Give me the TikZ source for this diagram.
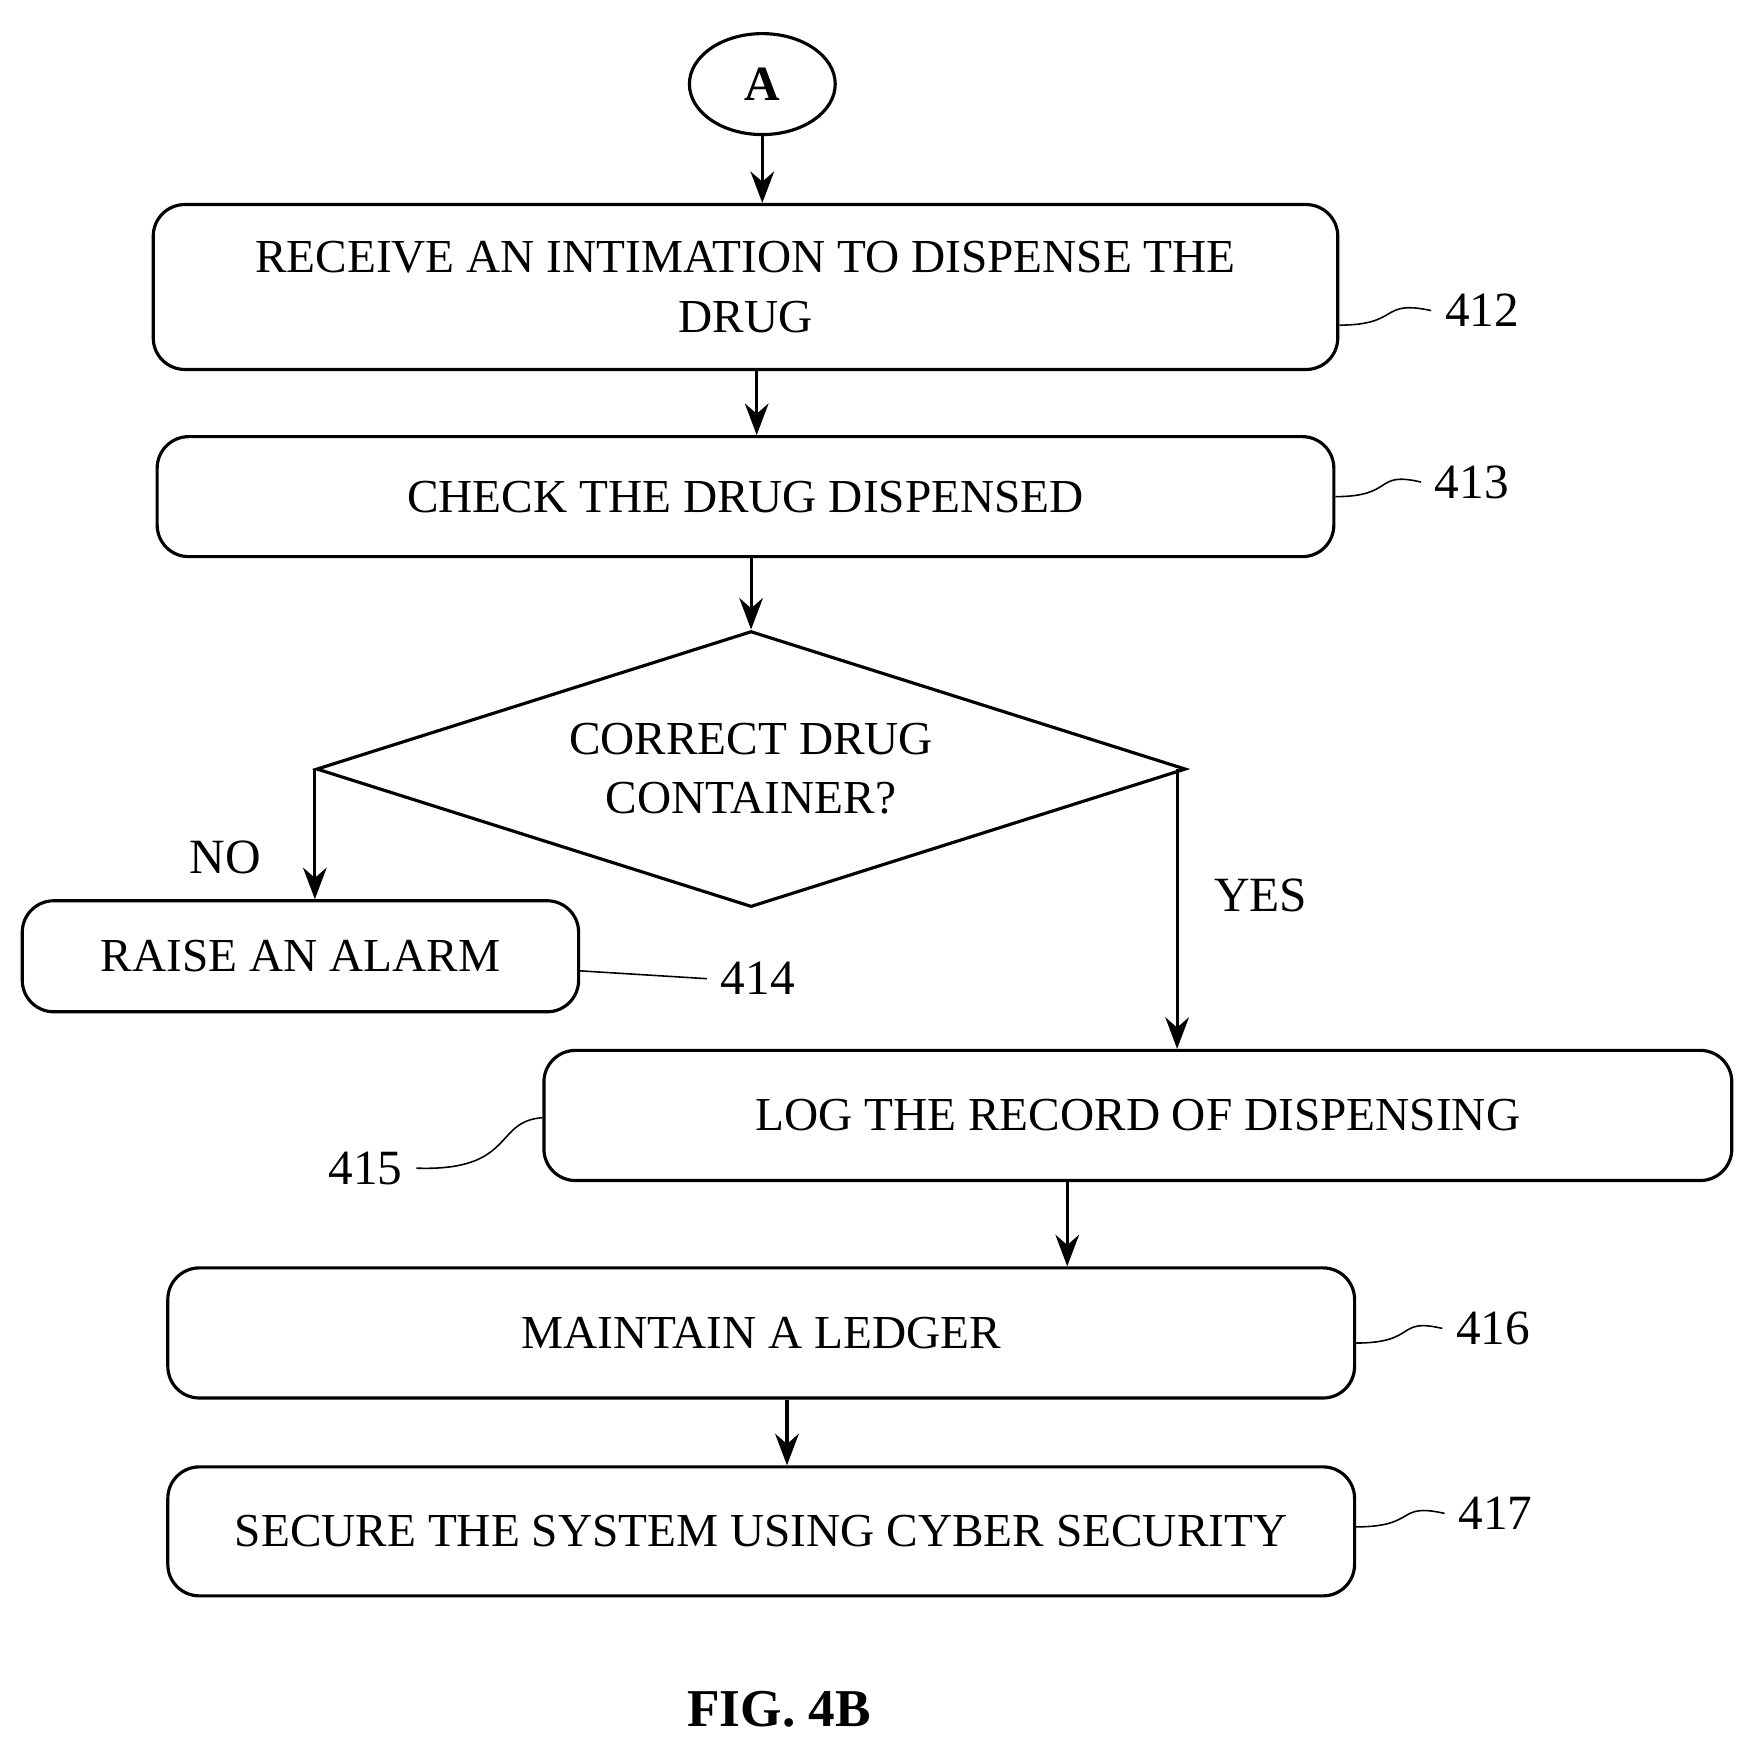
\documentclass[tikz,border=0pt]{standalone}
\usepackage{fontspec}
\setmainfont{Liberation Serif}
\usetikzlibrary{shapes.geometric,arrows.meta}
\tikzset{procbox/.style={draw,thick,rounded corners=8pt,align=center,inner sep=0pt},
  arr/.style={thick,-{Stealth[length=8pt,width=6pt]}},
  refno/.style={font=\fontsize{12.5}{15}\selectfont}}
\begin{document}
\begin{tikzpicture}[x=0.01cm,y=-0.01cm,font=\fontsize{12}{15}\selectfont]
  \useasboundingbox (0,0) rectangle (1550,1553);
  \node[draw,thick,ellipse,minimum width=1.3cm,minimum height=0.9cm,font=\fontsize{12.5}{15}\selectfont\bfseries] (A) at (680,75) {A};
  \node[procbox,minimum width=10.56cm,minimum height=1.47cm] (s412) at (665,256) {RECEIVE AN INTIMATION TO DISPENSE THE\\DRUG};
  \node[procbox,minimum width=10.49cm,minimum height=1.07cm] (s413) at (665,443) {CHECK THE DRUG DISPENSED};
  \node[draw,thick,diamond,minimum width=7.75cm,minimum height=2.46cm,aspect=3.15,inner sep=0pt,align=center] (d) at (670,686) {CORRECT DRUG\\CONTAINER?};
  \node[procbox,minimum width=4.96cm,minimum height=0.99cm] (s414) at (268,853) {RAISE AN ALARM};
  \node[procbox,minimum width=10.59cm,minimum height=1.16cm] (s415) at (1015,995) {LOG THE RECORD OF DISPENSING};
  \node[procbox,minimum width=10.58cm,minimum height=1.16cm] (s416) at (679,1189) {MAINTAIN A LEDGER};
  \node[procbox,minimum width=10.58cm,minimum height=1.15cm] (s417) at (679,1366) {SECURE THE SYSTEM USING CYBER SECURITY};

  \draw[arr] (A) -- (s412.north -| A);
  \draw[arr] (s412.south -| 675,0) -- (s413.north -| 675,0);
  \draw[arr] (s413.south -| d) -- (d.north);
  \draw[arr] (d.west) -- (s414.north -| d.west) node[pos=0.68,left=0.35cm,font=\fontsize{12.5}{15}\selectfont] {NO};
  \draw[arr] (1050,686) coordinate (yes) -- (s415.north -| yes) node[pos=0.45,right=0.2cm,font=\fontsize{12.5}{15}\selectfont] {YES};
  \draw[arr] (s415.south -| 952,0) -- (s416.north -| 952,0);
  \draw[arr] (s416.south -| 702,0) -- (s417.north -| 702,0);

  \node[refno] (n412) at (1322,277) {412};
  \node[refno] (n413) at (1313,430) {413};
  \node[refno] (n414) at (676,873) {414};
  \node[refno] (n415) at (326,1042) {415};
  \node[refno] (n416) at (1332,1185) {416};
  \node[refno] (n417) at (1334,1350) {417};
  \draw (s412.east |- 0,290) .. controls (1250,290) and (1230,267) .. (n412.west);
  \draw (s413.east |- 0,443) .. controls (1245,443) and (1225,420) .. (n413.west);
  \draw (s414.east |- 0,866) -- (n414.west);
  \draw (s415.west |- 0,997) .. controls (440,1000) and (460,1045) .. (n415.east);
  \draw (s416.east |- 0,1198) .. controls (1265,1198) and (1245,1175) .. (n416.west);
  \draw (s417.east |- 0,1362) .. controls (1265,1362) and (1245,1340) .. (n417.west);

  \node[font=\fontsize{13.5}{16}\selectfont\bfseries] (cap) at (695,1525) {FIG. 4B};
\end{tikzpicture}
\end{document}
